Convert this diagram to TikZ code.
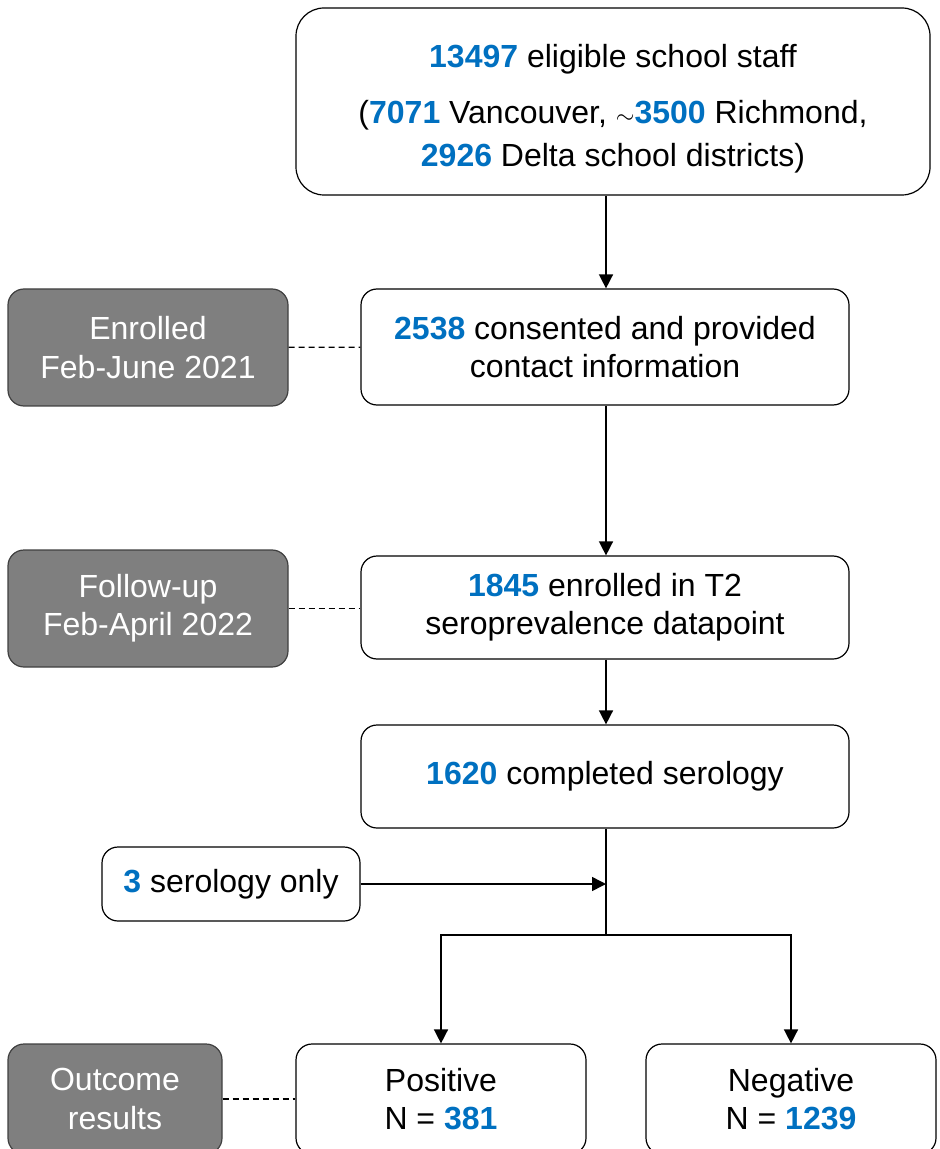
\documentclass[tikz,border=0pt]{standalone}
\usepackage{fontspec}
\setmainfont{Liberation Sans}
\usepackage{tikz}
\usetikzlibrary{arrows.meta}

\definecolor{numblue}{RGB}{0,112,192}
\definecolor{phasegrey}{RGB}{127,127,127}
\definecolor{phaseline}{RGB}{64,64,64}
\newcommand{\bnum}[1]{\textcolor{numblue}{\textbf{#1}}}

\begin{document}
\begin{tikzpicture}[x=0.5pt, y=-0.5pt,
		every node/.style={font=\fontsize{16}{19.2}\selectfont},
		countbox/.style={rectangle, draw=black, line width=0.6pt, rounded corners=8pt, align=center, inner sep=0pt},
		phasebox/.style={rectangle, draw=phaseline, fill=phasegrey, line width=0.6pt, rounded corners=8pt, align=center, inner sep=0pt, text=white},
		flow/.style={line width=0.75pt, -{Triangle[length=7pt,width=7pt]}},
		link/.style={line width=0.6pt, dashed, dash pattern=on 3pt off 2pt}]
		
		\clip (0,0) rectangle (940,1149);
		
		% Node
		
		\node[countbox, rounded corners=14pt, minimum width=317pt, minimum height=93.5pt]
		(eligible) at (613,101.5) {\rule{0pt}{18.5pt}\bnum{13497} eligible school staff\\[9pt]
			(\bnum{7071} Vancouver, {\fontsize{13}{15}\selectfont$\sim$}\bnum{3500} Richmond,\\[2pt]
			\bnum{2926} Delta school districts)};
		
		\node[countbox, minimum width=244pt, minimum height=58pt]
		(consent) at (605,347) {\bnum{2538} consented and provided\\contact information};
		
		\node[countbox, minimum width=244pt, minimum height=51.5pt]
		(followup) at (605,607.5) {\bnum{1845} enrolled in T2\\seroprevalence datapoint};
		
		\node[countbox, minimum width=244pt, minimum height=51.5pt]
		(serology) at (605,776.5) {\bnum{1620} completed serology};
		
		\node[countbox, minimum width=129pt, minimum height=37pt]
		(seroonly) at (231,884) {\bnum{3} serology only};
		
		\node[countbox, minimum width=145pt, minimum height=55pt]
		(positive) at (441,1099) {Positive\\N = \bnum{381}};
		\node[countbox, minimum width=145pt, minimum height=55pt]
		(negative) at (791,1099) {Negative\\N = \bnum{1239}};
		
		% Phase node
		
		\node[phasebox, minimum width=140pt, minimum height=58.5pt]
		(enrolled) at (148,347.5) {Enrolled\\Feb-June 2021};
		\node[phasebox, minimum width=140pt, minimum height=58.5pt]
		(fu) at (148,608.5) {Follow-up\\Feb-April 2022};
		\node[phasebox, minimum width=107pt, minimum height=55pt]
		(outcome) at (115,1099) {Outcome\\results};
		
		% Branch point
		
		\coordinate (join) at (606,884);
		\coordinate (split) at (606,935);
		
		% EDGE
		
		\draw[flow] (eligible.south -| join) -- (consent.north -| join);
		\draw[flow] (consent.south -| join) -- (followup.north -| join);
		\draw[flow] (followup.south -| join) -- (serology.north -| join);
		\draw[line width=0.75pt] (serology.south -| join) -- (split);
		\draw[flow] (seroonly) -- (join);
		\draw[flow] (split) -| (positive.north);
		\draw[flow] (split) -| (negative.north);
		
		% Dashed EDGE
		
		\draw[link] (enrolled) -- (consent);
		\draw[link] (fu) -- (fu -| followup.west);
		\draw[link] (outcome) -- (positive);
		
	\end{tikzpicture}
\end{document}
